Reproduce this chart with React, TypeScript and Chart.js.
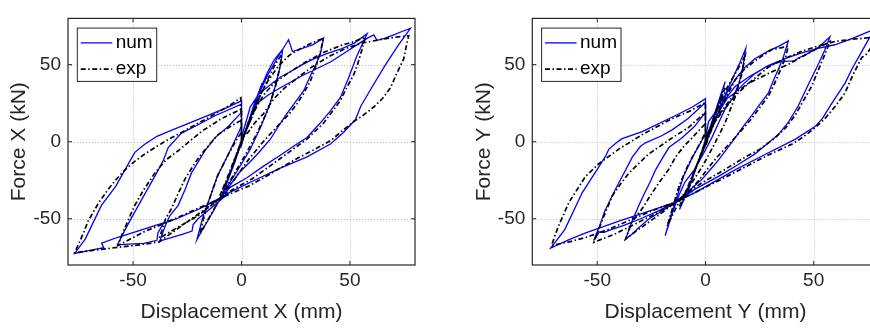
import React, { useEffect, useRef } from "react";
import { Chart, registerables } from "chart.js";

Chart.register(...registerables);

const FONT = "'Liberation Sans', Arial, Helvetica, sans-serif";
const TEXT = "#262626";

const tickValues = [-50, 0, 50];
const axisMin = -80;
const axisMax = 80;
const seriesLabels = ["num", "exp"];
const xTitles = ["Displacement X (mm)", "Displacement Y (mm)"];
const yTitles = ["Force X (kN)", "Force Y (kN)"];

type P = [number, number];

// Left panel, numerical (blue)
const numX: P[] = [
  [0,0],[2,8],[4.5,18],[3,11],[0,1],[-2,-8],[-4.5,-18],[-3,-12],[0,-1],
  [3,12],[6,25],[9.5,38],[7,27],[3,12],[0,0],[-4,-15],[-7,-27],[-10,-38],[-7,-28],[-3,-13],[0,0],
  [4,16],[8,32],[12,45],[15,53],[19,60],
  [18,50],[16,38],[13,24],[9,10],[4,-5],[-2,-19],[-7,-30],[-11,-40],[-15,-50],[-18,-57],[-20.6,-63.7],
  [-18,-50],[-15,-38],[-11,-22],[-6,-8],[-2,4],[0,10],[0,-2],
  [3,12],[7,28],[12,43],[16,53],[19,60],[21.7,66.2],[23.5,58.5],[28,60.5],[33,63],[37.9,67.3],
  [36.5,58],[34.8,51.6],[31.5,42],[28.6,32.9],[25,26],[21,18.3],[17,10],[13.3,1.6],[8,-7],[4,-13],[-1,-20],[-5.2,-28],[-8,-36],
  [-14,-43],[-20,-50],[-22.3,-53.8],[-22.8,-58],[-27,-60],[-32,-62],[-37.7,-64.5],
  [-35,-54],[-33,-48],[-29.2,-41.3],[-26,-31],[-23.1,-20.4],[-19.5,-12],[-16.9,-5.9],[-12.3,2.5],[-6,10],[0,19],[0,-2],
  [0.5,5],[4,22.5],[8,31],[13.3,37],[18,42],[22.5,45.4],[28,50],[33.3,53.7],[39,57],[45.6,60],[52,64],[57.9,70],
  [53,55],[49,40],[45.6,28.7],[41,20],[36.3,12.1],[30.2,2.7],[24,-3],[17.9,-8.8],[10,-16],[2.5,-23.4],[-5.2,-29.6],[-10,-36.5],
  [-20,-44],[-30,-50],[-36,-53],[-38.5,-59],[-39,-64],[-45,-66],[-52,-66.5],[-57.2,-66.9],
  [-54,-58],[-50.8,-49.6],[-45,-35],[-40,-22.5],[-36,-12],[-33.8,-3.8],[-27.7,5.6],[-20,11],[-12,17],[0,24.3],[0,0],
  [3,12],[7.1,24.6],[12,30],[17.9,35],[28.6,43.3],[41,51.7],[48,58],[53.3,63],[58.5,67.5],[61,69.3],[62.5,65.8],[66,67],[70.2,69.3],[74,71.5],[77.9,73.5],
  [72,62],[66,49],[60,35],[55,23],[52.5,14.2],[47,6],[41,-1.5],[30,-10],[17.9,-17.1],[6,-25],[-5.2,-32.7],[-10,-37],
  [-20,-44],[-30,-50],[-40,-54.5],[-50,-59],[-57,-62],[-64.5,-65.8],[-63.5,-68.8],[-70,-70.5],[-76.9,-72.5],
  [-72,-63],[-64.6,-41.3],[-58,-29],[-53.8,-18.4],[-49.2,-6.9],[-44.6,-1.7],[-39,3.5],[-33.8,6.6],[-25,11.5],[-15.4,17.1],[-7,22],[0,26.5],[0,2],
];

// Left panel, experimental (black)
const expX: P[] = [
  [0,0],[2,7],[4.5,16],[3,10],[0,1],[-2,-7],[-4.5,-17],[-3,-11],[0,-1],
  [3,11],[6,22],[9.5,33],[7,24],[3,10],[0,0],[-4,-14],[-7,-25],[-10,-35],[-7,-26],[-3,-12],[0,0],
  [4,14],[8,28],[12,40],[15.5,50],[18.6,56.7],
  [17.5,47],[15.5,35],[12,20],[7,5],[2,-8],[-3,-20],[-8,-32],[-12,-42],[-16,-52],[-19.2,-60],
  [-17.5,-50],[-15,-38],[-11,-22],[-6,-8],[-2,2],[0,6],[0,-1],
  [3,12],[7,26],[12,39],[17,49],[22,56],[28,61],[33,64.5],[37.8,67],
  [36.3,57.9],[34,48],[31.7,39.1],[28.5,31],[25.6,24.6],[22,18],[17.9,12.1],[10,0],[3,-12],[-3,-24],[-10,-37],
  [-20,-48],[-30,-56],[-37.8,-62.5],
  [-35,-50],[-32.3,-43.4],[-29,-33],[-26.2,-24.6],[-22,-15],[-18.5,-8],[-10.8,4.6],[-5,10],[0,14],[0,1],
  [3,10],[6,20],[10,30],[15,38],[22,45],[30,52],[38,58],[46,62.5],[52,65],[57.1,67.9],
  [55.6,60],[53.5,50],[51.7,43.3],[48.5,35],[45.6,26.7],[41.5,19],[37.9,12.1],[30.2,1.7],[17.9,-10.9],[5,-24],[-5.2,-32],[-10,-37],
  [-22,-44.5],[-34,-52],[-45,-58.5],[-51,-63],[-57,-67.3],
  [-55,-60],[-52,-50],[-49.2,-41.3],[-45,-31],[-40,-20.4],[-35,-12],[-29.2,-5.9],[-18.5,6.6],[-9.2,15],[0,21.2],[0,2],
  [3,6],[6,12],[10.2,18.3],[15,28],[20,35],[25.6,41.2],[33,49],[41,55.8],[48,60.5],[56.3,64.2],[65,66.5],[72,68],[77.1,68.7],
  [76,62],[74.8,53.7],[71.5,44],[68.7,35],[65,28],[61,22.5],[56,17],[51.7,13.1],[46,6.5],[41,0.6],[33,-5.5],[25.6,-10.9],[18,-17],[10.2,-23.4],[3,-29],[-5.2,-33.8],[-10,-37],
  [-18,-45],[-27,-54],[-33,-60],[-38,-65],[-47,-67],[-57,-68.5],[-67,-70.3],[-76.9,-72],
  [-75,-66],[-72.5,-58],[-70.8,-51.7],[-66,-40],[-61.5,-30.9],[-57.5,-24],[-53.8,-18.4],[-49,-12.5],[-44.6,-8],[-39,-3],[-33.8,1.4],[-27,6.5],[-21.5,10.8],[-10.8,19.1],[-5,24],[-0.3,28.5],[0,5],
];

// Right panel, numerical (blue)
const numY: P[] = [
  [0,0],[2,8],[4.5,17],[3,10],[0,1],[-2,-8],[-5,-19],[-3,-12],[0,-1],
  [3,13],[6,26],[9.1,39],[7,28],[3,13],[0,0],[-4,-16],[-8,-32],[-12,-44],[-9,-34],[-4,-16],[0,-2],
  [3,12],[6,19.2],[9,30],[12.2,40],[15.5,50],[18.6,60.4],
  [17.5,50],[15.5,38],[12.5,28],[9.1,21.3],[6,12],[2.9,2.5],[-1,-8],[-5,-18],[-9.4,-26],[-12,-34],[-15,-45],[-18.6,-61],
  [-16,-48],[-13,-35],[-10,-22],[-6,-10],[-2,0],[0,5],[0,-2],
  [2,5],[6,19],[10,32],[14,41],[18.3,48.3],[23,54],[29,58.75],[34,62],[38.3,65.4],
  [36,55],[34,48],[31.5,40],[29.1,31.7],[25,24],[21.4,17.1],[17.5,10],[13.7,2.5],[10,-4.5],[6,-12],[2,-18.5],[-1.7,-24.6],[-7,-31],[-13.8,-39.2],
  [-20,-45],[-26,-50],[-31,-56],[-34,-60],[-36.9,-63.2],
  [-34,-52],[-31,-42],[-28,-33],[-25.5,-26],[-23.1,-18.4],[-20,-11],[-16.9,-3.8],[-10.8,2.5],[-5,10],[0,19.1],[0,0],
  [2,6],[6,19],[10,28],[13.7,31.7],[18,38],[22.9,44.2],[28,48.5],[33.7,51.5],[38,52.3],[41.4,52.5],[42.5,54],[47,57],[52,61],[57.5,68.1],
  [55,59],[52.2,50.4],[47.5,37],[42.9,23.3],[38.5,13],[33.7,4.6],[28,-2],[22.9,-7.9],[15,-15],[6,-22.5],[-4.8,-30.8],[-9,-35],[-13.8,-39.2],
  [-22,-45],[-30,-50],[-38,-54.5],[-44.6,-57.5],[-47,-59],[-49,-58.5],[-51.7,-64.2],
  [-49,-55],[-46.5,-45],[-42,-32],[-37.5,-20],[-33.8,-10],[-30,-3],[-27.7,-0.7],[-20,4],[-15.4,7.7],[-8,15],[0,25.4],[0,2],
  [1.4,12.9],[6,22],[13.7,35.8],[20,42],[29,49.4],[37,54],[44.5,57.7],[52,60.5],[59.8,62.9],[68,67],[76,71.7],[78.5,73],
  [76,68],[72,58],[68,48],[64.5,38],[58,24],[54,15],[50.6,9.8],[41.4,1.5],[28,-8],[13.7,-18.3],[-4.8,-33],[-13.8,-39.2],
  [-25,-44.5],[-40,-51.5],[-55,-59],[-63,-63.5],[-71.5,-69],
  [-65,-57],[-56.9,-33],[-50,-18],[-46,-9],[-44.6,-4.8],[-41,-0.5],[-38.5,2],[-29.2,6.6],[-13.8,17],[-6,22.5],[0,27.9],[0,5],
];

// Right panel, experimental (black)
const expY: P[] = [
  [0,0],[2,7],[4.5,16],[3,10],[0,1],[-2,-8],[-5,-19],[-3,-12],[0,-1],
  [3,12],[6,24],[9,35],[7,26],[3,12],[0,0],[-4,-15],[-8,-30],[-12,-42],[-9,-32],[-4,-15],[0,-2],
  [3,12],[6,22],[10,35],[14.5,46],[18.3,55.6],
  [17,45],[14,30],[9,12],[4,-2],[-1,-15],[-6,-26],[-11,-36],[-14,-44],[-17.7,-54.8],
  [-15,-42],[-12,-28],[-8,-15],[-4,-5],[0,6],[0,-3],
  [2,5],[7.5,23.3],[13.7,40],[18,47],[22.9,52.5],[30.6,59.8],[38.3,61.9],
  [37,55],[35.2,48.3],[32,38],[29.1,29.6],[25,22],[21.4,15],[17,8],[12.2,0.4],[6,-9],[2.9,-14.2],[-3,-25],[-8,-33],[-13.8,-39.2],
  [-20,-46],[-26,-52],[-32,-58],[-36.9,-63.2],
  [-34,-52],[-29.2,-43.4],[-25,-34],[-21.5,-26.7],[-17,-18],[-13.8,-10],[-10,-3],[-6.2,2.5],[0,11.8],[0,-1],
  [1.4,6.7],[6,17],[13.7,31.7],[20,38],[29,44.2],[38,50],[47,57],[57.5,65],
  [55.2,56.7],[52,46],[49,35.8],[45,26],[41.4,17],[37,9],[32.2,2.5],[25,-5],[18.3,-10],[9,-18],[-1.7,-26.7],[-8,-33],[-13.8,-39.2],
  [-22,-46],[-32,-53],[-42,-60],[-51.5,-65.2],
  [-48,-52],[-43,-35],[-39,-27],[-35.4,-20.4],[-30,-13],[-26.2,-8],[-20,-2],[-15.4,2.5],[-8,9],[0,19.1],[0,0],
  [1.4,6.7],[7,18],[13.7,29.6],[20,38],[29,48.3],[36,53.5],[44.5,58.75],[52,62],[59.8,65],[68,66.5],[76,67.5],[78.5,68],
  [77,62],[74.5,57],[72.2,54.6],[68,43],[64.5,31.7],[60,23],[55.2,15],[51,9.5],[47.5,5.6],[43.5,1.5],[39.8,-1.7],[30,-8],[21.4,-14.2],[10,-22.5],[-1.7,-30.8],[-8,-35],[-13.8,-39.2],
  [-25,-45],[-35,-51],[-45,-57],[-55,-62],[-63,-65],[-71.1,-67.3],
  [-68,-55],[-63,-39.2],[-55.4,-22.5],[-49.2,-14.2],[-40,-4.8],[-29.2,4.6],[-15.4,15],[-7,20],[0,25.4],[0,2],
];

const framePlugin = {
  id: "frame",
  beforeDatasetsDraw(chart: any) {
    const { ctx, chartArea: a, scales } = chart;
    ctx.save();
    ctx.strokeStyle = "#b8b8b8";
    ctx.lineWidth = 1;
    ctx.setLineDash([1, 2]);
    for (const v of tickValues) {
      const px = Math.round(scales.x.getPixelForValue(v)) + 0.5;
      ctx.beginPath();
      ctx.moveTo(px, a.top);
      ctx.lineTo(px, a.bottom);
      ctx.stroke();
      const py = Math.round(scales.y.getPixelForValue(v)) + 0.5;
      ctx.beginPath();
      ctx.moveTo(a.left, py);
      ctx.lineTo(a.right, py);
      ctx.stroke();
    }
    ctx.restore();
  },
  afterDraw(chart: any) {
    const { ctx, chartArea: a, scales } = chart;
    ctx.save();
    ctx.setLineDash([]);
    ctx.strokeStyle = TEXT;
    ctx.lineWidth = 1.2;
    ctx.strokeRect(a.left, a.top, a.right - a.left, a.bottom - a.top);
    const tl = 4;
    ctx.lineWidth = 1;
    for (const v of tickValues) {
      const px = scales.x.getPixelForValue(v);
      ctx.beginPath();
      ctx.moveTo(px, a.bottom);
      ctx.lineTo(px, a.bottom - tl);
      ctx.moveTo(px, a.top);
      ctx.lineTo(px, a.top + tl);
      ctx.stroke();
      const py = scales.y.getPixelForValue(v);
      ctx.beginPath();
      ctx.moveTo(a.left, py);
      ctx.lineTo(a.left + tl, py);
      ctx.moveTo(a.right, py);
      ctx.lineTo(a.right - tl, py);
      ctx.stroke();
    }
    // legend box
    const bx = a.left + 9.3;
    const by = a.top + 9.7;
    const bw = 79.4;
    const bh = 53.3;
    ctx.fillStyle = "#ffffff";
    ctx.fillRect(bx, by, bw, bh);
    ctx.strokeStyle = TEXT;
    ctx.lineWidth = 1;
    ctx.strokeRect(bx, by, bw, bh);
    const rows = [by + 14.8, by + 41];
    chart.data.datasets.forEach((ds: any, i: number) => {
      const y = rows[i];
      ctx.save();
      ctx.strokeStyle = ds.borderColor;
      ctx.lineWidth = ds.borderWidth;
      ctx.setLineDash(ds.borderDash || []);
      ctx.beginPath();
      ctx.moveTo(bx + 3.4, y);
      ctx.lineTo(bx + 35, y);
      ctx.stroke();
      ctx.restore();
      ctx.fillStyle = "#000000";
      ctx.font = `19px ${FONT}`;
      ctx.textBaseline = "middle";
      ctx.textAlign = "left";
      ctx.fillText(ds.label, bx + 38.4, y);
    });
    ctx.restore();
  },
};

function Panel(props: {
  left: number;
  width: number;
  padLeft: number;
  padRight: number;
  xTitle: string;
  yTitle: string;
  num: P[];
  exp: P[];
}) {
  const ref = useRef<HTMLCanvasElement>(null);
  useEffect(() => {
    const fixTicks = (s: any) => {
      s.ticks = tickValues.map((v) => ({ value: v }));
    };
    const chart = new Chart(ref.current as HTMLCanvasElement, {
      type: "scatter",
      data: {
        datasets: [
          {
            label: seriesLabels[0],
            data: props.num.map(([x, y]) => ({ x, y })),
            showLine: true,
            borderColor: "#0000ff",
            borderWidth: 1.3,
            pointRadius: 0,
            order: 1,
          } as any,
          {
            label: seriesLabels[1],
            data: props.exp.map(([x, y]) => ({ x, y })),
            showLine: true,
            borderColor: "#000000",
            borderWidth: 1.7,
            borderDash: [5, 2.5, 1.5, 2.5],
            pointRadius: 0,
            order: 0,
          } as any,
        ],
      },
      options: {
        animation: false,
        responsive: false,
        events: [],
        layout: { padding: { left: props.padLeft, right: props.padRight, top: 8, bottom: 0 } },
        plugins: { legend: { display: false }, tooltip: { enabled: false } },
        scales: {
          x: {
            type: "linear",
            min: axisMin,
            max: axisMax,
            afterBuildTicks: fixTicks,
            afterFit: (s: any) => {
              s.height = 64;
            },
            grid: { display: false, drawTicks: false },
            border: { display: false },
            ticks: {
              color: TEXT,
              font: { size: 19, family: FONT },
              padding: 4,
              maxRotation: 0,
              minRotation: 0,
              autoSkip: false,
              callback: (v: any) => String(v),
            },
            title: {
              display: true,
              text: props.xTitle,
              color: TEXT,
              font: { size: 21, family: FONT },
              padding: { top: 0, bottom: 4 },
            },
          },
          y: {
            type: "linear",
            min: axisMin,
            max: axisMax,
            afterBuildTicks: fixTicks,
            afterFit: (s: any) => {
              s.width = 68;
            },
            grid: { display: false, drawTicks: false },
            border: { display: false },
            ticks: {
              color: TEXT,
              font: { size: 19, family: FONT },
              padding: 7,
              autoSkip: false,
              callback: (v: any) => String(v),
            },
            title: {
              display: true,
              text: props.yTitle,
              color: TEXT,
              font: { size: 21, family: FONT },
              padding: { top: 7, bottom: 0 },
            },
          },
        },
      } as any,
      plugins: [framePlugin as any],
    });
    return () => chart.destroy();
  }, []);
  return (
    <canvas
      ref={ref}
      width={props.width}
      height={329}
      style={{ position: "absolute", left: props.left, top: 0, display: "block" }}
    />
  );
}

export default function App() {
  return (
    <div
      style={{
        position: "fixed",
        left: 0,
        top: 0,
        width: 870,
        height: 329,
        overflow: "hidden",
        background: "#ffffff",
      }}
    >
      <Panel left={0} width={435} padLeft={0} padRight={20} xTitle={xTitles[0]} yTitle={yTitles[0]} num={numX} exp={expX} />
      <Panel left={435} width={450} padLeft={29.3} padRight={6.4} xTitle={xTitles[1]} yTitle={yTitles[1]} num={numY} exp={expY} />
    </div>
  );
}
